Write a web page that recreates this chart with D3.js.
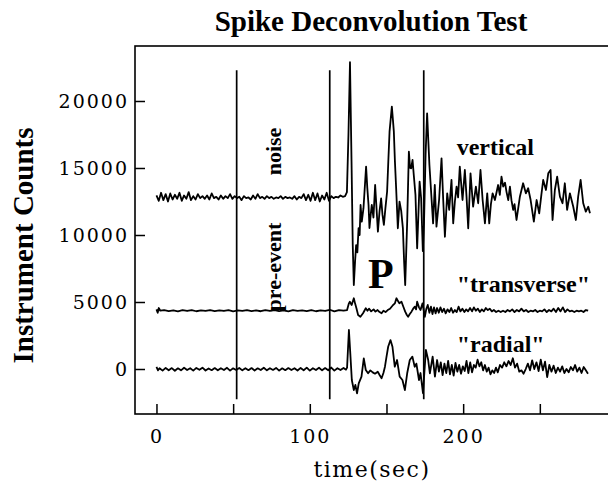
<!DOCTYPE html>
<html><head><meta charset="utf-8">
<script src="https://cdn.jsdelivr.net/npm/d3@7"></script>
<style>body{margin:0;background:#fff}</style>
</head><body><svg id="c" width="608" height="486"></svg>
<script>
// ---------- data ----------
const xDomain = [-14, 300];
const yDomain = [-3358, 24104];
const xTicks = [0, 50, 100, 150, 200, 250];
const xTickLabels = ["0", "", "100", "", "200", ""];
const yTicks = [0, 5000, 10000, 15000, 20000];
const yTickLabels = ["0", "5000", "10000", "15000", "20000"];
const markerTimes = [52.3, 113, 174.3];
const markerRange = [-2250, 22300];

// [time (sec), instrument counts]
const verticalTrace = [
[0,12950],[1.5,12550],[3,13150],[4.5,12600],[6,13050],[7.5,12500],[9,13100],[10.5,12650],[12,13000],[13.5,12700],
[15,13150],[16.5,12550],[18,12950],[19.5,12700],[21,13200],[22.5,12600],[24,12900],[25.5,12650],[27,13050],[28.5,12750],
[30,12900],[31.5,12700],[33,12950],[34.5,12650],[36,13100],[37.5,12750],[39,12850],[40.5,12650],[42,12950],[43.5,12700],
[45,12900],[46.5,12750],[48,13050],[49.5,12700],[51,12900],[52.5,12750],[54,12850],[55.5,12600],[57,12900],[58.5,12750],
[60,12800],[61.5,12650],[63,12950],[64.5,12700],[66,13050],[67.5,12750],[69,12850],[70.5,12700],[72,12900],[73.5,12750],
[75,12850],[76.5,12700],[78,12800],[79.5,12750],[81,12900],[82.5,12700],[84,12850],[85.5,12750],[87,12800],[88.5,12700],
[90,12900],[91.5,12650],[93,12850],[94.5,12750],[96,13050],[97.5,12600],[99,13000],[100.5,12550],[102,13150],[103.5,12600],
[105,13100],[106.5,12500],[108,12950],[109.5,12650],[111,13150],[112.5,12550],[114,12900],[115.5,12750],[117,12850],[118.5,12800],
[120,12950],[121.5,12850],[123,12900],[124.2,13200],
[125.2,17500],[126.2,22890],[127.2,15500],[128,9250],[128.7,6270],[129.5,8000],[130.2,9250],[131,8700],[131.8,10520],[132.5,10000],
[133.1,12240],[133.9,11000],[135,12000],[136.7,15100],[137.5,13500],[138.3,12240],[138.9,10520],[139.7,11500],[140.4,12240],[141.5,11300],
[142.6,13730],[143.5,12000],[144.4,10250],[145.5,11800],[146.5,12740],[147.4,11500],[148.3,10750],[149.3,12000],[150.4,13230],[151.2,15500],
[152,17710],[153.5,19580],[154.2,18600],[154.8,17710],[155.5,15500],[156.3,13490],[157.4,10500],[158.5,12490],[159.6,11800],[160.7,10500],
[161.5,8000],[162.2,6270],[163.5,11000],[164.6,16220],[165.4,15000],[166.1,14980],[167,15600],[167.8,14480],[168.9,12990],[170,9010],
[171.6,13980],[172.6,12740],[173.7,8800],[174.5,11000],[175.5,16000],[176.5,19080],[177.3,17000],[178,15220],[179.1,13230],[180.4,10870],
[181.5,13730],[182.6,10620],[184.3,12610],[185.9,15720],[187,12610],[188.1,9870],[189.6,13110],[190.9,11870],[192.4,14110],[193.5,10870],
[194.6,12500],[195.7,13610],[196.7,12800],[197.8,15100],[199.6,12610],[201.1,14850],[202.2,12860],[203.3,10500],[204.8,14600],[206.5,12110],
[208.3,13610],[209.8,12370],[211.3,14850],[212.7,12610],[214.2,10870],[215.7,13110],[217,10870],[218.1,12300],[219.2,13110],[220.7,12610],
[222.8,13730],[223.9,13000],[225,14350],[226.1,13610],[227.3,13900],[228.3,13200],[229.4,12610],[230.5,13610],[231.5,12600],[232.6,11870],
[233.5,12300],[234.8,11120],[237,12860],[239.1,13860],[240.9,13110],[242.4,13490],[244,12610],[246.1,11000],[247.9,12610],[249.6,11620],
[251,13000],[252.2,14110],[254,13360],[255.5,14600],[257,14850],[258.3,11120],[259.8,13360],[261.3,14350],[263.1,12860],[264.8,12370],
[266.3,13860],[267.8,11870],[269.6,13110],[271.8,12110],[273.5,11120],[275,12860],[276.6,14110],[278.3,12370],[280,11740],[281.6,12110],
[282.7,11620]
];

const transverseTrace = [
[0,4450],[0.8,4200],[1.5,4550],[2.5,4350],
[5,4400],[8,4320],[11,4380],[14,4300],[17,4390],[20,4330],[23,4400],[26,4310],[29,4370],[32,4340],
[35,4400],[38,4320],[41,4380],[44,4330],[47,4390],[50,4300],[53,4370],[56,4340],[59,4400],[62,4320],
[65,4380],[68,4310],[71,4390],[74,4330],[77,4400],[80,4320],[83,4370],[86,4300],[89,4390],[92,4340],
[95,4380],[98,4320],[101,4400],[104,4310],[107,4370],[110,4330],[113,4420],[116,4300],[119,4400],[122,4350],
[124.3,4400],[125.5,4900],[126.1,5020],[127.3,4780],[128.7,5280],[129.5,4900],[130.4,4530],[131.5,4030],[133,3900],[134.7,4160],
[136.5,4530],[137.6,4350],[138.7,4500],[140,4300],[141.6,4450],[142.8,4280],[144.2,4400],[145.5,4250],[146.8,4160],[148,4350],
[149.4,4250],[150.8,4400],[152.3,4500],[154.3,4780],[155.5,4900],[156.5,5280],[157.6,5050],[158.4,4900],[159.8,5020],[161,4650],
[162.2,4280],[163.2,4050],[164.1,3900],[165.2,4100],[166.3,4280],[167.4,4500],[168.5,4650],[169.3,4450],[170,5020],[171.2,4600],
[172.2,4400],[173.5,4900],[175,3900],[176,4500],[176.9,4780],[178,4200],[179,4650],[180,4100],[181,4600],[182,4150],
[183,4550],[184.1,4200],[185.2,4600],[186.3,4250],[187.5,4500],[188.6,4150],[189.8,4450],[191,4250],[192.2,4550],[193.4,4200],
[194.6,4400],[195.8,4250],[197,4650],[198.2,4300],[199.5,4500],[200.8,4250],[202,4450],[203.2,4300],[204.5,4550],[205.8,4300],
[207,4600],[208.3,4350],[209.6,4500],[210.9,4250],[212.2,4450],[213.5,4300],[214.8,4550],[216.1,4400],[217.4,4500],[218.7,4300],
[220,4400],[221.5,4250],[223,4350],[224.5,4250],[226,4350],[227.5,4250],[229,4400],[230.5,4300],[232,4450],[233.5,4250],
[235,4400],[236.5,4300],[238,4500],[239.5,4300],[241,4400],[242.5,4250],[244,4350],[245.5,4300],[247,4400],[248.5,4250],
[250,4350],[251.5,4300],[253,4450],[254.5,4250],[256,4400],[257.5,4300],[259,4500],[260.5,4250],[262,4550],[263.5,4300],
[265,4600],[266.5,4250],[268,4450],[269.5,4300],[271,4350],[272.5,4250],[274,4350],[275.5,4300],[277,4350],[278.5,4250],
[280,4400],[281.5,4350]
];

const radialTrace = [
[0,150],[1,-100],[2,60],[4,-120],[6,80],[8,-90],[10,70],[12,-130],[14,50],[16,-100],
[18,90],[20,-80],[22,60],[24,-120],[26,80],[28,-60],[30,100],[32,-110],[34,40],[36,-90],
[38,70],[40,-100],[42,60],[44,-80],[46,90],[48,-120],[50,50],[52,-70],[54,80],[56,-100],
[58,60],[60,-90],[62,70],[64,-110],[66,50],[68,-80],[70,90],[72,-100],[74,60],[76,-70],
[78,80],[80,-120],[82,50],[84,-90],[86,70],[88,-80],[90,60],[92,-110],[94,80],[96,-90],
[98,100],[100,-120],[102,60],[104,-80],[106,90],[108,-100],[110,70],[112,-90],[114,110],[116,-120],
[118,60],[120,-80],[122,80],[123.6,-50],
[124.3,100],[124.9,1500],[125.5,2910],[126.4,1170],[127.4,-820],[128.7,-1570],[129.7,-1190],[130.8,-1810],[131.9,-1070],[133.7,-570],
[135.2,800],[136.5,-75],[138,-320],[139.5,-100],[141,-250],[142.5,-350],[144.3,-200],[145.5,-450],[146.8,-690],[148,-300],
[149,170],[150,900],[151.1,1660],[152.6,2160],[153.9,1660],[155.4,170],[156.9,670],[158.6,-570],[160.4,-820],[162,-1570],
[163.5,-320],[165.2,670],[166.9,920],[168.4,170],[169.5,400],[171.2,-820],[172.2,-300],[173.8,-1810],[175.7,1420],[177.2,670],
[178.3,-320],[180.1,920],[181.6,-570],[183,670],[184.2,-200],[185.4,500],[186.6,-450],[187.8,400],[189,-300],[190.2,600],
[191.4,-400],[192.6,300],[193.8,-500],[195,450],[196.2,-200],[197.4,300],[198.6,-350],[199.8,200],[201,-150],[202.2,600],
[203.4,-300],[204.6,500],[205.8,-250],[207,300],[208.2,100],[209.4,700],[210.6,200],[211.8,500],[213,-100],[214.2,300],
[215.4,-200],[216.6,100],[217.8,-400],[219,-100],[220.2,-300],[221.4,100],[222.6,-250],[224,300],[225.4,100],[226.8,500],
[228.2,200],[229.6,600],[231,300],[232.4,800],[233.8,100],[235.2,400],[236.6,-200],[238,-100],[239.4,-350],[240.8,0],
[242.2,400],[243.6,-100],[245,650],[246.4,0],[247.8,500],[249.2,-150],[250.6,700],[252,-100],[253.4,550],[254.8,-600],
[256.2,300],[257.6,-200],[259,250],[260.4,-300],[261.8,100],[263.2,-200],[264.6,200],[266,-300],[267.4,0],[268.8,-250],
[270.2,150],[271.6,-100],[273,300],[274.4,-200],[275.8,100],[277.2,-300],[278.6,150],[280,-100],[281.4,-350]
];

// annotations: [text, time, counts]
const traceLabels = [["vertical", 195.8, 15970], ["\"transverse\"", 195.8, 5770], ["\"radial\"", 195.8, 1290]];
const noiseLabels = [["pre-event", 81, 7612], ["noise", 81, 16230]];

// ---------- chart ----------
const svg = d3.select('#c');
const x = d3.scaleLinear().domain(xDomain).range([135, 616.5]);
const y = d3.scaleLinear().domain(yDomain).range([414, 46]);

svg.append('text').attr('x', 371).attr('y', 31).attr('text-anchor', 'middle')
  .attr('font-family', 'Liberation Serif').attr('font-weight', 'bold').attr('font-size', 29)
  .text('Spike Deconvolution Test');

svg.append('text').attr('transform', 'translate(33,245.5) rotate(-90)').attr('text-anchor', 'middle')
  .attr('font-family', 'Liberation Serif').attr('font-weight', 'bold').attr('font-size', 29)
  .text('Instrument Counts');

svg.append('text').attr('x', 372).attr('y', 477).attr('text-anchor', 'middle')
  .attr('font-family', 'DejaVu Serif').attr('font-size', 22).attr('letter-spacing', 1.5)
  .text('time(sec)');

// frame
svg.append('rect').attr('x', 135).attr('y', 46).attr('width', 490).attr('height', 368)
  .attr('fill', 'none').attr('stroke', '#000').attr('stroke-width', 1.6);

const gy = svg.append('g').attr('transform', 'translate(135,0)')
  .call(d3.axisLeft(y).tickValues(yTicks).tickSize(-10).tickPadding(6)
    .tickFormat((d, i) => yTickLabels[i]));
const gx = svg.append('g').attr('transform', 'translate(0,414)')
  .call(d3.axisBottom(x).tickValues(xTicks).tickSize(-10).tickPadding(15.5)
    .tickFormat((d, i) => xTickLabels[i]));
[gx, gy].forEach(g => {
  g.select('.domain').remove();
  g.selectAll('line').attr('stroke', '#000').attr('stroke-width', 1.5);
  g.selectAll('text').attr('font-family', 'DejaVu Serif').attr('font-size', 19)
    .attr('letter-spacing', 2).attr('fill', '#000');
});

// vertical marker lines
svg.append('g').selectAll('line').data(markerTimes).join('line')
  .attr('x1', d => x(d)).attr('x2', d => x(d))
  .attr('y1', y(markerRange[1])).attr('y2', y(markerRange[0]))
  .attr('stroke', '#000').attr('stroke-width', 1.7);

const line = d3.line().x(d => x(d[0])).y(d => y(d[1]));
[verticalTrace, transverseTrace, radialTrace].forEach(tr => {
  svg.append('path').attr('d', line(tr)).attr('fill', 'none')
    .attr('stroke', '#000').attr('stroke-width', 1.8).attr('stroke-linejoin', 'round');
});

// labels
svg.append('g').selectAll('text').data(traceLabels).join('text')
  .attr('x', d => x(d[1])).attr('y', d => y(d[2]))
  .attr('font-family', 'Liberation Serif').attr('font-weight', 'bold').attr('font-size', 24)
  .text(d => d[0]);

svg.append('text').attr('x', x(137.9)).attr('y', y(6010))
  .attr('font-family', 'Liberation Serif').attr('font-weight', 'bold').attr('font-size', 42)
  .text('P');

svg.append('g').selectAll('text').data(noiseLabels).join('text')
  .attr('transform', d => `translate(${x(d[1])},${y(d[2])}) rotate(-90)`).attr('text-anchor', 'middle')
  .attr('font-family', 'Liberation Serif').attr('font-weight', 'bold').attr('font-size', 22)
  .text(d => d[0]);
</script></body></html>
